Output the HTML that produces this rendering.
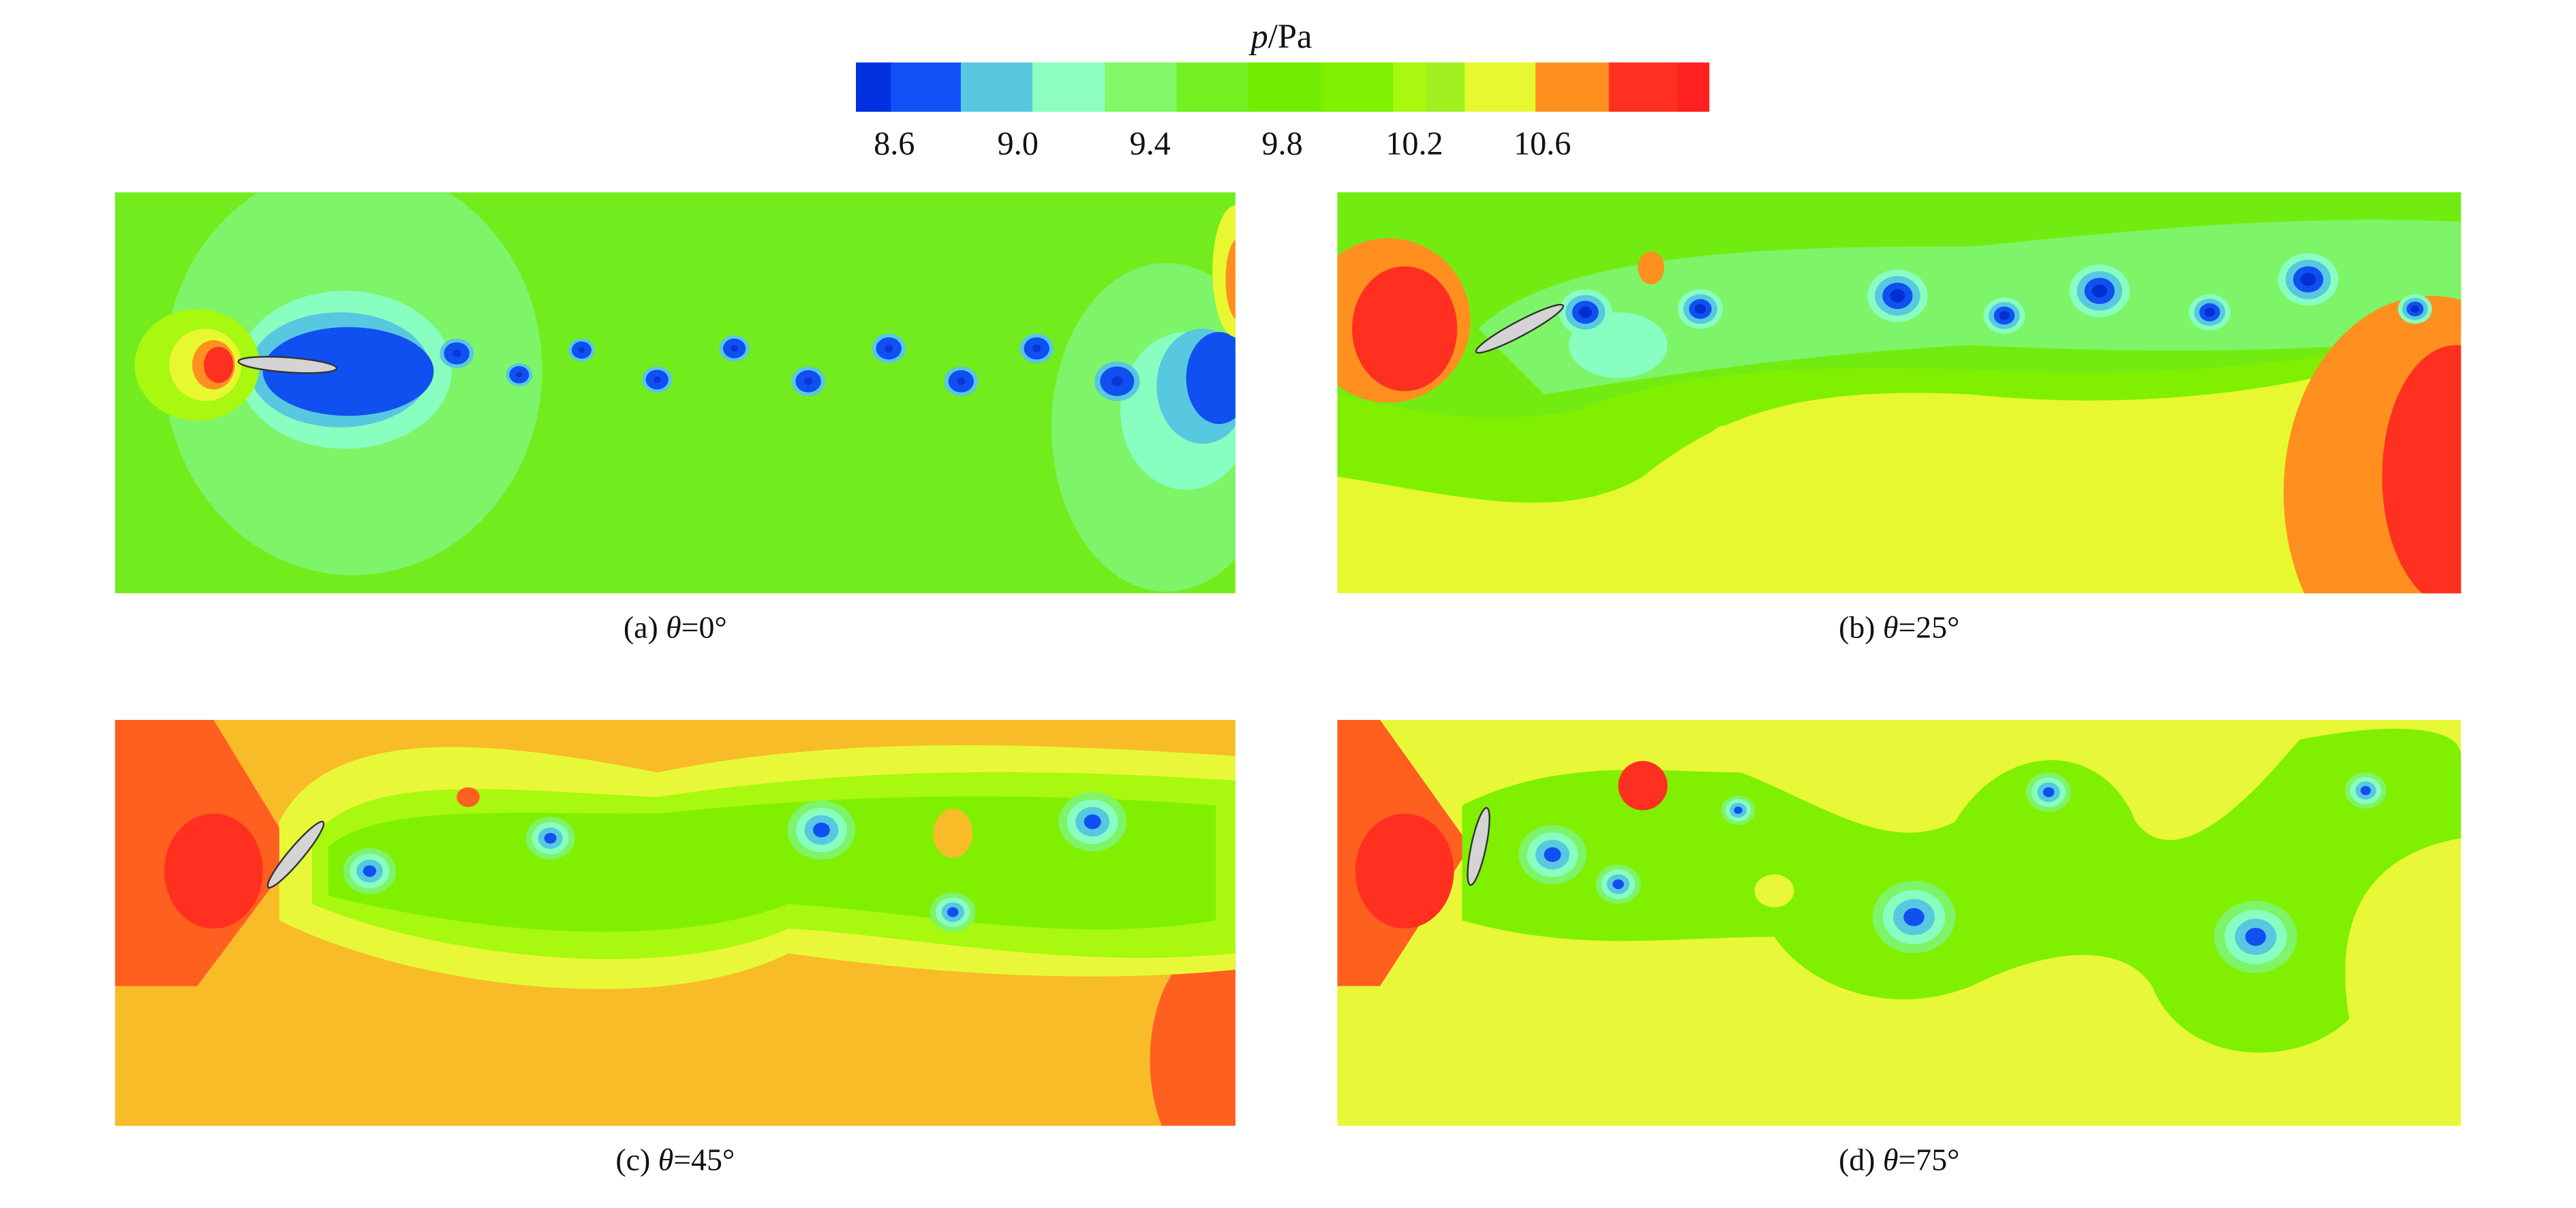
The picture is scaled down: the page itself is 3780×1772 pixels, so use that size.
<!DOCTYPE html>
<html><head><meta charset="utf-8">
<style>
html,body{margin:0;padding:0;background:#fff;}
svg{display:block;}
text{font-family:"Liberation Serif",serif;fill:#111;}
</style></head>
<body>
<svg id="fig" width="3780" height="1772" viewBox="0 0 1568 735" preserveAspectRatio="none">
<defs>
<clipPath id="ca"><rect x="70" y="117" width="682" height="244"/></clipPath>
<clipPath id="cb"><rect x="814" y="117" width="684" height="244"/></clipPath>
<clipPath id="cc"><rect x="70" y="438" width="682" height="247"/></clipPath>
<clipPath id="cd"><rect x="814" y="438" width="684" height="247"/></clipPath>
</defs>
<text x="780" y="29" font-size="21" text-anchor="middle"><tspan font-style="italic">p</tspan>/Pa</text>
<g id="cbar"></g>
<g id="cticks"></g>
<g clip-path="url(#ca)" id="pa"></g>
<g clip-path="url(#cb)" id="pb"></g>
<g clip-path="url(#cc)" id="pc"></g>
<g clip-path="url(#cd)" id="pd"></g>
<text x="411" y="388" font-size="19" text-anchor="middle">(a) <tspan font-style="italic">θ</tspan>=0°</text>
<text x="1156" y="388" font-size="19" text-anchor="middle">(b) <tspan font-style="italic">θ</tspan>=25°</text>
<text x="411" y="712" font-size="19" text-anchor="middle">(c) <tspan font-style="italic">θ</tspan>=45°</text>
<text x="1156" y="712" font-size="19" text-anchor="middle">(d) <tspan font-style="italic">θ</tspan>=75°</text>
</svg>
<script>
const cbColors=["#0030e0","#1050f5","#58c8e0","#8cffc0","#80f868","#72f020","#70ec00","#7ef000","#a8f810","#a0f020","#e8f830","#ff9020","#ff3020","#ff2020"];
const cbEdges=[0,0.041,0.123,0.207,0.292,0.376,0.46,0.545,0.63,0.669,0.714,0.797,0.883,0.964,1];
const cbTicks=["8.6","9.0","9.4","9.8","10.2","10.6"];
const cbTickPos=[0.045,0.19,0.345,0.5,0.655,0.805];
const NS="http://www.w3.org/2000/svg";
function mk(tag,attrs,parent){const e=document.createElementNS(NS,tag);for(const k in attrs)e.setAttribute(k,attrs[k]);parent.appendChild(e);return e;}
const cbX=521,cbW=519,cbY=38,cbH=30;
const cbar=document.getElementById('cbar');
cbColors.forEach((c,i)=>{const r=mk('rect',{x:cbX+cbEdges[i]*cbW,y:cbY,width:(cbEdges[i+1]-cbEdges[i])*cbW+0.5,height:cbH,fill:c},cbar);

});
const ct=document.getElementById('cticks');
cbTicks.forEach((t,i)=>{const e=mk('text',{x:cbX+cbTickPos[i]*cbW,y:94,'font-size':20,'text-anchor':'middle'},ct);e.textContent=t;

});

function vortex(g,x,y,s,levels){
  levels.forEach((c,i)=>{const k=(levels.length-i)/levels.length;mk('ellipse',{cx:x,cy:y,rx:s*k*1.15,ry:s*k,fill:c},g);});
}
function foil(g,x,y,ang,len){mk('ellipse',{cx:x,cy:y,rx:len,ry:4.5,fill:"#d4d4d4",stroke:"#333","stroke-width":1,transform:`rotate(${ang} ${x} ${y})`},g);}

// Panel a
const aVx=[278,316,354,400,447,492,541,585,631,680];
const aVy=[215,228,213,231,212,232,212,232,212,232];
const aVs=[9,7,7,8,8,9,9,9,9,12];
{const g=document.getElementById('pa');
mk('rect',{x:70,y:117,width:682,height:244,fill:"#72ec1c"},g);
mk('ellipse',{cx:215,cy:225,rx:115,ry:125,fill:"#7ef468"},g);
mk('ellipse',{cx:710,cy:260,rx:70,ry:100,fill:"#7ef468"},g);
mk('ellipse',{cx:210,cy:225,rx:65,ry:48,fill:"#88ffc0"},g);
mk('ellipse',{cx:207,cy:225,rx:55,ry:35,fill:"#58c8e0"},g);
mk('ellipse',{cx:212,cy:226,rx:52,ry:27,fill:"#1050f0"},g);
mk('ellipse',{cx:722,cy:250,rx:40,ry:48,fill:"#88ffc0"},g);
mk('ellipse',{cx:732,cy:235,rx:28,ry:35,fill:"#58c8e0"},g);
mk('ellipse',{cx:742,cy:230,rx:20,ry:28,fill:"#1050f0"},g);
mk('ellipse',{cx:752,cy:165,rx:14,ry:40,fill:"#e8f830"},g);
mk('ellipse',{cx:754,cy:170,rx:8,ry:25,fill:"#ff9020"},g);
mk('ellipse',{cx:120,cy:222,rx:38,ry:34,fill:"#a8f810"},g);
mk('ellipse',{cx:125,cy:222,rx:22,ry:22,fill:"#e8f830"},g);
mk('ellipse',{cx:130,cy:222,rx:13,ry:15,fill:"#ff9020"},g);
mk('ellipse',{cx:133,cy:222,rx:9,ry:11,fill:"#ff3020"},g);
aVx.forEach((x,i)=>vortex(g,x,aVy[i],aVs[i],["#58c8e0","#1050f0","#1050f0","#0838d8"]));
foil(g,175,222,4,30);}

// Panel b
const bVx=[965,1035,1155,1220,1278,1345,1405,1470];
const bVy=[190,188,180,192,177,190,170,188];
const bVs=[14,12,16,11,16,11,16,9];
{const g=document.getElementById('pb');
mk('rect',{x:814,y:117,width:684,height:244,fill:"#e8f830"},g);
mk('path',{d:"M814 117 H1498 V205 C1400 240 1300 250 1200 240 C1100 235 1050 250 1000 290 C950 320 880 300 814 290 Z",fill:"#80f000"},g);
mk('path',{d:"M814 117 H1498 V200 C1400 225 1300 230 1200 225 C1100 222 1020 225 960 250 C900 260 860 250 814 240 Z",fill:"#72ec10"},g);
mk('path',{d:"M900 200 C950 150 1100 150 1200 150 C1300 140 1400 130 1498 135 V205 C1400 215 1300 215 1200 210 C1100 215 1000 230 940 240 Z",fill:"#7ef468"},g);
mk('ellipse',{cx:1480,cy:300,rx:90,ry:120,fill:"#ff9020"},g);
mk('ellipse',{cx:1495,cy:290,rx:45,ry:80,fill:"#ff3020"},g);
mk('ellipse',{cx:845,cy:195,rx:50,ry:50,fill:"#ff9020"},g);
mk('ellipse',{cx:855,cy:200,rx:32,ry:38,fill:"#ff3020"},g);
mk('ellipse',{cx:1050,cy:275,rx:12,ry:16,fill:"#e8f830"},g);
mk('ellipse',{cx:1005,cy:163,rx:8,ry:10,fill:"#ff9020"},g);
mk('ellipse',{cx:985,cy:210,rx:30,ry:20,fill:"#88ffc0"},g);
bVx.forEach((x,i)=>vortex(g,x,bVy[i],bVs[i],["#88ffc0","#58c8e0","#1050f0","#0030d0"]));
foil(g,925,200,-28,30);}

// Panel c
const cVx=[225,335,500,580,665];
const cVy=[530,510,505,555,500];
const cVs=[14,13,18,12,18];
{const g=document.getElementById('pc');
mk('rect',{x:70,y:438,width:682,height:247,fill:"#f8bc28"},g);
mk('path',{d:"M70 438 H130 L180 520 L120 600 L70 600 Z",fill:"#ff6020"},g);
mk('ellipse',{cx:740,cy:645,rx:40,ry:70,fill:"#ff6020"},g);
mk('path',{d:"M170 500 C200 440 300 450 400 470 C500 450 600 450 752 460 V590 C650 600 550 590 480 580 C400 620 250 600 170 560 Z",fill:"#e8f838"},g);
mk('path',{d:"M190 510 C220 470 300 480 400 485 C500 470 600 465 752 475 V580 C650 590 560 570 480 565 C400 600 260 580 190 550 Z",fill:"#a8f810"},g);
mk('path',{d:"M200 515 C230 490 300 495 400 495 C500 485 600 480 740 490 V560 C650 575 560 555 480 550 C400 580 280 565 200 545 Z",fill:"#80f000"},g);
mk('ellipse',{cx:130,cy:530,rx:30,ry:35,fill:"#ff3020"},g);
mk('ellipse',{cx:580,cy:507,rx:12,ry:15,fill:"#f8bc28"},g);
mk('ellipse',{cx:285,cy:485,rx:7,ry:6,fill:"#ff6020"},g);
cVx.forEach((x,i)=>vortex(g,x,cVy[i],cVs[i],["#7ef468","#88ffc0","#58c8e0","#1050f0"]));
foil(g,180,520,-50,26);}

// Panel d
const dVx=[945,985,1058,1165,1247,1373,1440];
const dVy=[520,538,493,558,482,570,481];
const dVs=[18,12,9,22,12,22,11];
{const g=document.getElementById('pd');
mk('rect',{x:814,y:438,width:684,height:247,fill:"#e8f838"},g);
mk('path',{d:"M814 438 H840 L895 515 L840 600 L814 600 Z",fill:"#ff6020"},g);
mk('path',{d:"M890 490 C950 460 1010 470 1060 470 C1110 490 1150 520 1190 500 C1220 450 1280 450 1300 500 C1330 540 1390 460 1400 450 C1450 440 1498 440 1498 460 V510 C1440 520 1420 560 1430 620 C1400 650 1330 650 1310 600 C1290 570 1240 580 1200 600 C1150 620 1100 600 1080 570 C1020 570 960 580 890 560 Z",fill:"#80f000"},g);
mk('ellipse',{cx:855,cy:530,rx:30,ry:35,fill:"#ff3020"},g);
mk('ellipse',{cx:1000,cy:478,rx:15,ry:15,fill:"#ff3020"},g);
mk('ellipse',{cx:1080,cy:542,rx:12,ry:10,fill:"#e8f838"},g);
dVx.forEach((x,i)=>vortex(g,x,dVy[i],dVs[i],["#7ef468","#88ffc0","#58c8e0","#1050f0"]));
foil(g,900,515,-78,24);}
</script>
</body></html>
